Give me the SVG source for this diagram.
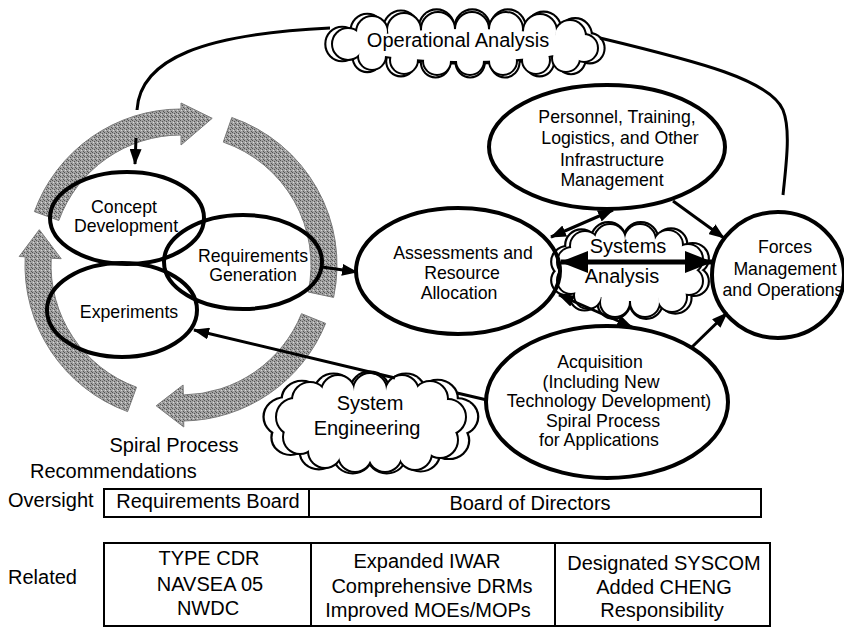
<svg xmlns="http://www.w3.org/2000/svg" xmlns:xlink="http://www.w3.org/1999/xlink" width="844" height="630" viewBox="0 0 844 630">
<style>
.t{font-family:"Liberation Sans",Arial,Helvetica,sans-serif;font-size:17.7px;fill:#000;text-anchor:middle}
.tc{font-size:20px}
.ts{text-anchor:start}
.node{fill:none;stroke:#000;stroke-width:4}
.conn{fill:none;stroke:#000;stroke-width:3}
.thick{stroke-width:5}
.band{fill:url(#stip);stroke:#7a7a7a;stroke-width:1}
.cs{fill:#fff;stroke:#000;stroke-width:4}
.cf{fill:#fff;stroke:none}
.box{fill:none;stroke:#000;stroke-width:2}
</style>
<defs>
<pattern id="stip" width="4" height="4" patternUnits="userSpaceOnUse">
<rect width="4" height="4" fill="#a2a2a2"/>
<rect x="0" y="0" width="1" height="1" fill="#555555"/>
<rect x="2" y="1" width="1" height="1" fill="#555555"/>
<rect x="1" y="2" width="1" height="1" fill="#d8d8d8"/>
<rect x="3" y="3" width="1" height="1" fill="#555555"/>
</pattern>
<marker id="ah" viewBox="0 0 16 12" refX="15" refY="6" markerWidth="16" markerHeight="12" markerUnits="userSpaceOnUse" orient="auto-start-reverse">
<path d="M0,0 L16,6 L0,12 Z" fill="#000"/>
</marker>
<marker id="ahb" viewBox="0 0 28 22" refX="27" refY="11" markerWidth="28" markerHeight="22" markerUnits="userSpaceOnUse" orient="auto-start-reverse">
<path d="M0,0 L28,11 L0,22 Z" fill="#000"/>
</marker>
<g id="cloudOA">
<circle cx="348" cy="44" r="15"/><circle cx="372" cy="32" r="15"/><circle cx="404" cy="30" r="16"/>
<circle cx="438" cy="29" r="16"/><circle cx="472" cy="29" r="16"/><circle cx="506" cy="29" r="16"/>
<circle cx="540" cy="31" r="16"/><circle cx="570" cy="36" r="15"/><circle cx="584" cy="48" r="13"/>
<circle cx="566" cy="58" r="13"/><circle cx="536" cy="60" r="13"/><circle cx="503" cy="61" r="13"/>
<circle cx="470" cy="61" r="13"/><circle cx="437" cy="61" r="13"/><circle cx="404" cy="60" r="13"/>
<circle cx="372" cy="56" r="13"/><ellipse cx="466" cy="45" rx="112" ry="16"/>
</g>
<g id="cloudSA">
<circle cx="572" cy="262" r="14"/><circle cx="585" cy="246" r="14"/><circle cx="610" cy="240" r="15"/>
<circle cx="640" cy="240" r="15"/><circle cx="668" cy="245" r="14"/><circle cx="688" cy="259" r="14"/>
<circle cx="689" cy="281" r="13"/><circle cx="672" cy="297" r="14"/><circle cx="645" cy="302" r="14"/>
<circle cx="615" cy="302" r="14"/><circle cx="588" cy="295" r="13"/><circle cx="571" cy="280" r="13"/>
<ellipse cx="630" cy="271" rx="60" ry="30"/>
</g>
<g id="cloudSE">
<circle cx="295" cy="417" r="18"/><circle cx="310" cy="400" r="17"/><circle cx="338" cy="392" r="16"/>
<circle cx="370" cy="390" r="16"/><circle cx="402" cy="392" r="16"/><circle cx="430" cy="399" r="17"/>
<circle cx="448" cy="417" r="17"/><circle cx="440" cy="440" r="17"/><circle cx="415" cy="453" r="16"/>
<circle cx="385" cy="455" r="16"/><circle cx="355" cy="455" r="16"/><circle cx="325" cy="451" r="16"/>
<circle cx="300" cy="437" r="16"/><ellipse cx="372" cy="422" rx="80" ry="32"/>
</g>
</defs>

<g id="spiral">
<path class="band" d="M34.4,211.6 A156,156 0 0 1 181,109 L181,103 L212.2,118.3 L181,145 L181,135 A130,130 0 0 0 58.8,220.5 Z"/>
<path class="band" d="M231.8,117.5 A156,156 0 0 1 333.6,297.4 L308.2,292.0 A130,130 0 0 0 223.3,142.1 Z"/>
<path class="band" d="M325.6,323.4 A156,156 0 0 1 183.7,421.0 L183.8,427.0 L156.2,405.8 L183.1,385.0 L183.3,395.0 A130,130 0 0 0 301.5,313.7 Z"/>
<path class="band" d="M127.6,411.6 A156,156 0 0 1 25.2,256.8 L19.2,256.5 L39.3,229.7 L61.2,258.7 L51.2,258.2 A130,130 0 0 0 136.5,387.2 Z"/>
</g>

<g id="operational-analysis">
<use xlink:href="#cloudOA" class="cs" transform="translate(466 44) scale(1.05 1.08) translate(-466 -44)"/>
<use xlink:href="#cloudOA" class="cf" transform="translate(466 44) scale(1.05 1.08) translate(-466 -44)"/>
<use xlink:href="#cloudOA" class="cs"/>
<use xlink:href="#cloudOA" class="cf"/>
<text class="t tc" x="458" y="47">Operational Analysis</text>
</g>

<g id="systems-analysis">
<use xlink:href="#cloudSA" class="cs" transform="translate(630 271) scale(1.08 1.04) translate(-630 -271)"/>
<use xlink:href="#cloudSA" class="cf" transform="translate(630 271) scale(1.08 1.04) translate(-630 -271)"/>
<use xlink:href="#cloudSA" class="cs"/>
<use xlink:href="#cloudSA" class="cf"/>
<text class="t tc" x="628" y="253">Systems</text>
<text class="t tc" x="622" y="283">Analysis</text>
</g>

<g id="system-engineering">
<use xlink:href="#cloudSE" class="cs" transform="translate(372 422) scale(1.13 1.03) translate(-372 -422)"/>
<use xlink:href="#cloudSE" class="cf" transform="translate(372 422) scale(1.13 1.03) translate(-372 -422)"/>
<use xlink:href="#cloudSE" class="cs"/>
<use xlink:href="#cloudSE" class="cf"/>
<text class="t tc" x="370" y="410">System</text>
<text class="t tc" x="367" y="435">Engineering</text>
</g>

<g id="concept-development">
<ellipse class="node" cx="127" cy="218" rx="77" ry="46"/>
<text class="t" x="124" y="213">Concept</text>
<text class="t" x="126" y="232">Development</text>
</g>

<g id="requirements-generation">
<ellipse class="node" cx="243" cy="262" rx="79" ry="47"/>
<text class="t" x="253" y="262">Requirements</text>
<text class="t" x="253" y="281">Generation</text>
</g>

<g id="experiments">
<ellipse class="node" cx="122" cy="310" rx="75" ry="47"/>
<text class="t" x="129" y="318">Experiments</text>
</g>

<g id="assessments">
<ellipse class="node" cx="458" cy="271" rx="102" ry="63"/>
<text class="t" x="463" y="259">Assessments and</text>
<text class="t" x="462" y="279">Resource</text>
<text class="t" x="459" y="299">Allocation</text>
</g>

<g id="personnel">
<ellipse class="node" cx="607" cy="147" rx="118" ry="62"/>
<text class="t" x="617" y="123">Personnel, Training,</text>
<text class="t" x="620" y="144">Logistics, and Other</text>
<text class="t" x="612" y="166">Infrastructure</text>
<text class="t" x="612" y="186">Management</text>
</g>

<g id="forces">
<ellipse class="node" cx="778" cy="275" rx="66" ry="63"/>
<text class="t" x="785" y="253">Forces</text>
<text class="t" x="785" y="275">Management</text>
<text class="t" x="783" y="296">and Operations</text>
</g>

<g id="acquisition">
<ellipse class="node" cx="607" cy="402" rx="121" ry="76"/>
<text class="t" x="600" y="368">Acquisition</text>
<text class="t" x="601" y="388">(Including New</text>
<text class="t" x="609" y="407">Technology Development)</text>
<text class="t" x="603" y="427">Spiral Process</text>
<text class="t" x="599" y="446">for Applications</text>
</g>

<g id="connectors">
<path class="conn" d="M330,28 C205,34 140,58 137,110 M136,138 L135,164" marker-end="url(#ah)"/>
<path class="conn" d="M600,38 C700,62 770,80 783,110 C791,130 786,165 783,195"/>
<path class="conn" d="M322,267 L357,272" marker-end="url(#ah)"/>
<path class="conn" d="M613,210 L551,237" marker-start="url(#ah)" marker-end="url(#ah)"/>
<path class="conn" d="M673,201 L724,238" marker-end="url(#ah)"/>
<path class="conn" d="M559,295 L632,327" marker-start="url(#ah)" marker-end="url(#ah)"/>
<path class="conn" d="M692,347 L727,313" marker-end="url(#ah)"/>
<path class="conn" d="M487,400 L457,393 M395,378 L194,330" marker-end="url(#ah)"/>
<path class="conn thick" d="M561,262 L712,262" marker-start="url(#ahb)" marker-end="url(#ahb)"/>
</g>

<g id="spiral-label">
<text class="t tc" x="174" y="452">Spiral Process</text>
<text class="t tc ts" x="30" y="478">Recommendations</text>
</g>

<g id="oversight">
<text class="t tc ts" x="8" y="507">Oversight</text>
<rect class="box" x="104" y="489" width="657" height="28"/>
<line class="box" x1="309" y1="489" x2="309" y2="517"/>
<text class="t tc" x="208" y="508">Requirements Board</text>
<text class="t tc" x="530" y="510">Board of Directors</text>
</g>

<g id="related">
<text class="t tc ts" x="8" y="584">Related</text>
<rect class="box" x="104" y="543" width="666" height="83"/>
<line class="box" x1="311" y1="543" x2="311" y2="626"/>
<line class="box" x1="555" y1="543" x2="555" y2="626"/>
<text class="t tc" x="209" y="565">TYPE CDR</text>
<text class="t tc" x="210" y="591">NAVSEA 05</text>
<text class="t tc" x="208" y="615">NWDC</text>
<text class="t tc" x="427" y="568">Expanded IWAR</text>
<text class="t tc" x="432" y="593">Comprehensive DRMs</text>
<text class="t tc" x="428" y="617">Improved MOEs/MOPs</text>
<text class="t tc" x="664" y="570">Designated SYSCOM</text>
<text class="t tc" x="664" y="594">Added CHENG</text>
<text class="t tc" x="662" y="617">Responsibility</text>
</g>
</svg>
